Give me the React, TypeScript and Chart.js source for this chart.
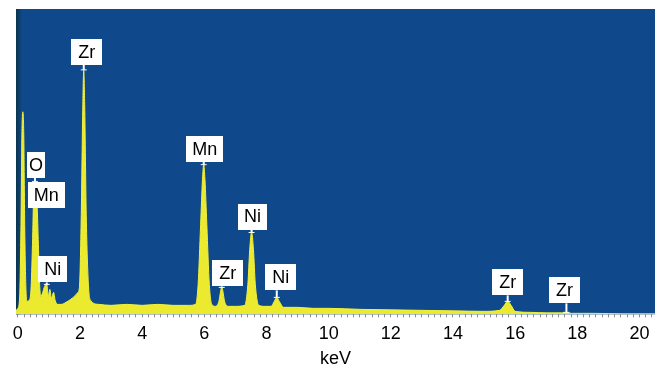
import { useEffect, useRef } from 'react';
import { Chart, registerables } from 'chart.js';

Chart.register(...registerables);

// Spectrum (energy in keV, intensity in arbitrary units)
const energyKeV = [
  -0.06, 0.0, 0.06, 0.1, 0.13, 0.16, 0.19, 0.22, 0.26, 0.3,
  0.36, 0.42, 0.47, 0.51, 0.55, 0.58, 0.62, 0.66, 0.7, 0.74,
  0.8, 0.86, 0.93, 0.98, 1.03, 1.08, 1.15, 1.2, 1.28, 1.4,
  1.55, 1.7, 1.85, 1.93, 1.98, 2.04, 2.09, 2.12, 2.15, 2.2,
  2.27, 2.34, 2.6, 3.0, 3.5, 4.0, 4.5, 5.0, 5.5, 5.72,
  5.8, 5.88, 5.94, 5.98, 6.02, 6.08, 6.16, 6.24, 6.36, 6.46,
  6.56, 6.66, 6.78, 7.0, 7.3, 7.4, 7.46, 7.52, 7.58, 7.64,
  7.75, 7.95, 8.15, 8.25, 8.33, 8.41, 8.55, 9.0, 9.5, 10.0,
  11.0, 12.0, 13.0, 14.0, 15.0, 15.5, 15.65, 15.76, 15.87, 16.0,
  16.5, 17.0, 17.5, 17.65, 17.8, 18.5, 19.5, 20.5,
];
const counts = [
  4, 6, 20, 90, 180, 203, 180, 90, 25, 13,
  14, 24, 70, 122, 133, 120, 108, 70, 30, 18,
  22, 28, 30, 18, 25, 16, 22, 14, 10, 10,
  12, 15, 19, 22, 27, 100, 210, 245, 210, 100,
  30, 14, 10, 9, 10, 9, 10, 9, 9, 10,
  30, 90, 135, 150, 135, 90, 30, 10, 8, 12,
  27, 12, 8, 8, 9, 30, 65, 82, 65, 30,
  9, 8, 8, 13, 17, 13, 7, 7, 6, 6,
  5, 4.5, 4, 3.5, 3, 4, 9, 13, 9, 3,
  2, 1.5, 1.5, 2, 1, 1, 0.5, 0.5,
];

// Peak labels
const peakNames = ['O', 'Mn', 'Ni', 'Zr', 'Mn', 'Zr', 'Ni', 'Ni', 'Zr', 'Zr'];
const peakKeV = [0.55, 0.62, 0.93, 2.12, 5.98, 6.56, 7.52, 8.33, 15.76, 17.65];
const peakCounts = [133, 108, 30, 245, 150, 27, 82, 17, 13, 2];

// Axis tick labels (keV)
const majorTicks = [0, 2, 4, 6, 8, 10, 12, 14, 16, 18, 20];
const minorStep = 0.2;

// label layout (pixels): horizontal shift of box centre, gap above the peak, side padding
const labelDx = [1, 9, 6, 3, 1, 6, 1, 4, 0, -2];
const labelGap = [4, -1, 2, 5, 3, 1, 3, 7, 6, 9];
const labelPadX = [2, 6, 6, 7, 6, 7, 6, 7, 7, 7];

const FONT = '"Liberation Sans", Arial, Helvetica, sans-serif';
const PLOT_BG = '#0f488b';

const backgroundPlugin = {
  id: 'plotBg',
  beforeDraw(chart: any) {
    const { ctx, chartArea: a } = chart;
    ctx.save();
    ctx.fillStyle = PLOT_BG;
    ctx.fillRect(a.left, a.top, a.right - a.left, a.bottom - a.top);
    const g = ctx.createLinearGradient(a.left, 0, a.left + 6, 0);
    g.addColorStop(0, 'rgba(10,50,70,0.9)');
    g.addColorStop(1, 'rgba(10,50,70,0)');
    ctx.fillStyle = g;
    ctx.fillRect(a.left, a.top, 6, a.bottom - a.top);
    ctx.restore();
  },
};

const peakLabelPlugin = {
  id: 'peakLabels',
  afterDatasetsDraw(chart: any) {
    const { ctx } = chart;
    const xs = chart.scales.x;
    const ys = chart.scales.y;
    ctx.save();
    ctx.font = `18px ${FONT}`;
    ctx.textAlign = 'center';
    ctx.textBaseline = 'middle';
    peakNames.forEach((name, i) => {
      const px = xs.getPixelForValue(peakKeV[i]);
      const py = ys.getPixelForValue(peakCounts[i]);
      const tw = ctx.measureText(name).width;
      const w = tw + 2 * labelPadX[i];
      const h = 26;
      const bottom = py - labelGap[i];
      const cx = px + labelDx[i];
      ctx.strokeStyle = '#ffffff';
      ctx.lineWidth = 2;
      if (labelGap[i] > 0) {
        ctx.beginPath();
        ctx.moveTo(px, bottom);
        ctx.lineTo(px, py);
        ctx.stroke();
        ctx.beginPath();
        ctx.moveTo(px - 3, py);
        ctx.lineTo(px + 3, py);
        ctx.lineWidth = 1;
        ctx.stroke();
      }
      ctx.fillStyle = '#ffffff';
      ctx.fillRect(Math.round(cx - w / 2), Math.round(bottom - h), Math.round(w), h);
      ctx.fillStyle = '#000000';
      ctx.fillText(name, cx, bottom - h / 2 + 1);
    });
    ctx.restore();
  },
};

export default function App() {
  const ref = useRef<HTMLCanvasElement | null>(null);

  useEffect(() => {
    document.body.style.margin = '0';
    const canvas = ref.current;
    if (!canvas) return;
    const points = energyKeV.map((x, i) => ({ x, y: counts[i] }));
    const chart = new Chart(canvas, {
      type: 'line',
      data: {
        datasets: [
          {
            data: points,
            borderColor: '#f2f03c',
            backgroundColor: '#ecea2e',
            borderWidth: 1,
            pointRadius: 0,
            fill: 'origin',
            cubicInterpolationMode: 'monotone',
          },
        ],
      },
      options: {
        animation: false,
        responsive: false,
        maintainAspectRatio: false,
        layout: { padding: { left: 16, right: 3, top: 9, bottom: -1.5 } },
        plugins: {
          legend: { display: false },
          tooltip: { enabled: false },
        },
        scales: {
          x: {
            type: 'linear',
            min: -0.06,
            max: 20.5,
            afterBuildTicks: (scale: any) => {
              const t: any[] = [];
              const n = Math.floor(20.4 / minorStep + 1e-6);
              for (let i = 0; i <= n; i++) t.push({ value: i * minorStep });
              scale.ticks = t;
            },
            ticks: {
              autoSkip: false,
              maxRotation: 0,
              padding: 6,
              color: '#000000',
              font: { family: FONT, size: 18 },
              callback: (v: any) => {
                const m = majorTicks.find((t) => Math.abs(t - Number(v)) < 1e-6);
                return m === undefined ? '' : String(m);
              },
            },
            grid: {
              drawOnChartArea: false,
              drawTicks: true,
              tickLength: 3,
              color: 'rgba(130,130,130,0.9)',
            },
            border: { display: false },
            title: {
              display: true,
              text: 'keV',
              color: '#000000',
              font: { family: FONT, size: 18, lineHeight: 0.92 },
              padding: { top: 0, bottom: 0 },
            },
          },
          y: {
            display: false,
            min: 0,
            max: 306,
          },
        },
      },
      plugins: [backgroundPlugin, peakLabelPlugin],
    });
    return () => chart.destroy();
  }, []);

  return (
    <div style={{ width: 658, height: 366 }}>
      <canvas ref={ref} width={658} height={366} style={{ display: 'block' }} />
    </div>
  );
}
